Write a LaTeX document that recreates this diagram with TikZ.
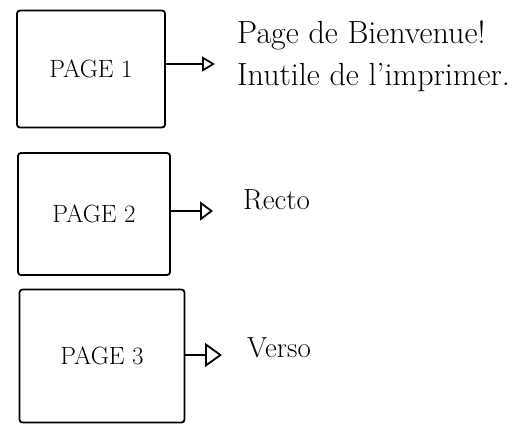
\documentclass[tikz,border=0pt]{standalone}
\usepackage{tikz}
\usetikzlibrary{arrows.meta}
\tikzset{
  pagebox/.style={draw, line width=1.8pt, rounded corners=3pt, inner sep=0pt, font=\fontsize{25}{28}\selectfont},
  pagenote/.style={anchor=west, inner sep=0pt, align=left, font=\fontsize{29}{32}\selectfont},
  bignote/.style={pagenote, font=\fontsize{32}{42}\selectfont},
  pagearrow/.style 2 args={line width=1.8pt, -{Triangle[open, length=#1, width=#2, line width=1.8pt]}}
}
\newcommand{\pagebox}[6]{\node[pagebox, minimum width=#4, minimum height=#5] (#1) at (#2,#3) {#6};}
\newcommand{\pagenote}[5]{\node[#1] (#2) at (#3,#4) {#5};}

\begin{document}
\begin{tikzpicture}[x=1pt, y=-1pt]
        \useasboundingbox (0,0) rectangle (521,426);
        % boxes
        \pagebox{page1}{91}{69}{148pt}{117pt}{PAGE 1}
        \pagebox{page2}{94}{214}{152pt}{122pt}{PAGE 2}
        \pagebox{page3}{102}{356}{165pt}{133pt}{PAGE 3}
        % notes
        \pagenote{bignote}{note1}{237}{56}{Page de Bienvenue!\\ Inutile de l'imprimer.}
        \pagenote{pagenote}{note2}{243}{200}{Recto}
        \pagenote{pagenote}{note3}{247}{348}{Verso}
        % arrows
        \draw[pagearrow={13pt}{15pt}, shorten >=22pt] (page1.east |- 0,64) -- (note1.west |- 0,64);
        \draw[pagearrow={13pt}{19pt}, shorten >=30pt] (page2.east |- 0,211) -- (note2.west |- 0,211);
        \draw[pagearrow={17pt}{24pt}, shorten >=25pt] (page3.east |- 0,355) -- (note3.west |- 0,355);
    \end{tikzpicture}
\end{document}
